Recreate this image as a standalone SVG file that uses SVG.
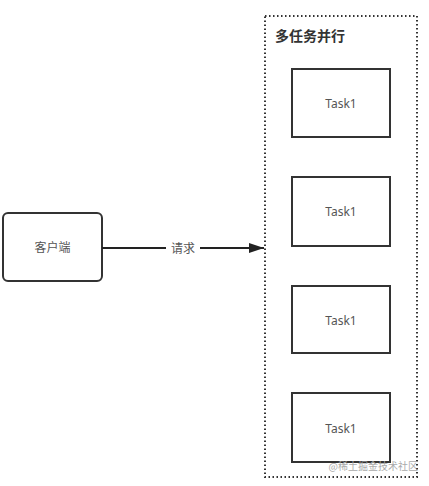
<svg xmlns="http://www.w3.org/2000/svg" width="429" height="486" viewBox="0 0 429 486">
<defs>
<style>
.box{fill:#fff;stroke:#333;stroke-width:2}
.t{font-family:"Noto Sans","Noto Sans CJK SC",sans-serif;font-size:12px;fill:#555;text-anchor:middle;dominant-baseline:central}
</style>
<marker id="ah" viewBox="0 0 15 10" refX="15" refY="5" markerWidth="7.5" markerHeight="5" orient="auto" markerUnits="strokeWidth"><path d="M0,0 L15,5 L0,10 Z" fill="#222"/></marker>
</defs>
<rect width="429" height="486" fill="#fff"/>
<g id="container">
<rect x="265" y="16" width="152" height="461" fill="none" stroke="#333" stroke-width="2" stroke-dasharray="1.5,2.5"/>
<text x="275" y="41" font-family="'Noto Sans CJK SC',sans-serif" font-size="14" font-weight="bold" fill="#333">多任务并行</text>
</g>
<g id="client">
<rect class="box" x="3" y="213" width="99" height="68" rx="5"/>
<text class="t" x="52.5" y="247">客户端</text>
</g>
<g id="task1"><rect class="box" x="292" y="69" width="98" height="68"/><text class="t" x="341" y="103">Task1</text></g>
<g id="task2"><rect class="box" x="292" y="177" width="98" height="69"/><text class="t" x="341" y="211">Task1</text></g>
<g id="task3"><rect class="box" x="292" y="286" width="98" height="67"/><text class="t" x="341" y="320">Task1</text></g>
<g id="task4"><rect class="box" x="292" y="393" width="98" height="69"/><text class="t" x="341" y="428">Task1</text></g>
<g id="connectors">
<line x1="102" y1="248" x2="264" y2="248" stroke="#222" stroke-width="2" marker-end="url(#ah)"/>
<rect x="166" y="240" width="34" height="16" fill="#fff"/>
<text class="t" x="183" y="248">请求</text>
</g>
<text x="418" y="470" font-family="'Noto Sans CJK SC',sans-serif" font-size="10" fill="#aaa" text-anchor="end">@稀土掘金技术社区</text>
</svg>
